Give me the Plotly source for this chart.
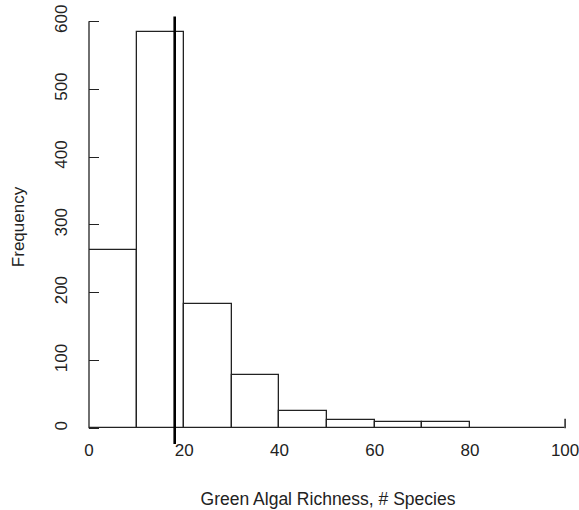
import plotly.graph_objects as go

# Histogram data
bin_left = [0, 10, 20, 30, 40, 50, 60, 70, 80]
bin_right = [10, 20, 30, 40, 50, 60, 70, 80, 100]
counts = [263, 584, 183, 79, 25, 12, 9, 9, 1]
edge_spike_x = 100
edge_spike_height = 14
mean_richness = 18

x_ticks = [0, 20, 40, 60, 80, 100]
y_ticks = [0, 100, 200, 300, 400, 500, 600]

INK = "#222222"
FONT = "Liberation Sans, Arial, sans-serif"

centers = [(a + b) / 2 for a, b in zip(bin_left, bin_right)]
widths = [b - a for a, b in zip(bin_left, bin_right)]

fig = go.Figure()
fig.add_trace(go.Bar(
    x=centers, y=counts, width=widths,
    marker=dict(color="white", line=dict(color=INK, width=1.3)),
    showlegend=False, hoverinfo="x+y",
))
# right-edge spike at 100
fig.add_trace(go.Scatter(
    x=[edge_spike_x, edge_spike_x], y=[0, edge_spike_height],
    mode="lines", line=dict(color=INK, width=1.5),
    showlegend=False, hoverinfo="skip",
))

shapes = [
    # y axis line spanning 0..600
    dict(type="line", xref="paper", yref="y", x0=0, x1=0, y0=y_ticks[0], y1=y_ticks[-1],
         line=dict(color=INK, width=1.3)),
    # vertical reference line
    dict(type="line", xref="x", yref="y", x0=mean_richness, x1=mean_richness,
         y0=-23, y1=607, line=dict(color="black", width=2.6)),
]

fig.update_layout(
    width=579, height=510,
    margin=dict(l=89, r=12, t=10, b=66),
    paper_bgcolor="white", plot_bgcolor="white",
    font=dict(family=FONT, size=17, color=INK),
    bargap=0,
    shapes=shapes,
    xaxis=dict(
        range=[0, 100.4], tickvals=x_ticks, ticktext=[str(v) for v in x_ticks],
        showgrid=False, zeroline=False, showline=False, ticks="",
        automargin=False, ticklabelstandoff=-6, ticklabeloverflow="allow",
        tickfont=dict(size=17, color=INK),
        title=dict(text="Green Algal Richness, # Species", font=dict(size=17.5, color=INK), standoff=33),
    ),
    yaxis=dict(
        range=[-23.1, 616.7], tickvals=y_ticks, ticktext=[str(v) for v in y_ticks],
        showgrid=False, zeroline=False, showline=False,
        ticks="inside", ticklen=10, tickwidth=1.3, tickcolor=INK,
        tickangle=-90, ticklabelstandoff=18, ticklabeloverflow="allow",
        automargin=False,
        tickfont=dict(size=17, color=INK),
        title=dict(text="Frequency", font=dict(size=17, color=INK), standoff=22),
    ),
)

# remove the default 8px page margin so the figure fills the window exactly
fig.write_html(
    "out.html",
    config={"displayModeBar": False},
    post_script="document.body.style.margin='0';document.body.style.overflow='hidden';",
)
